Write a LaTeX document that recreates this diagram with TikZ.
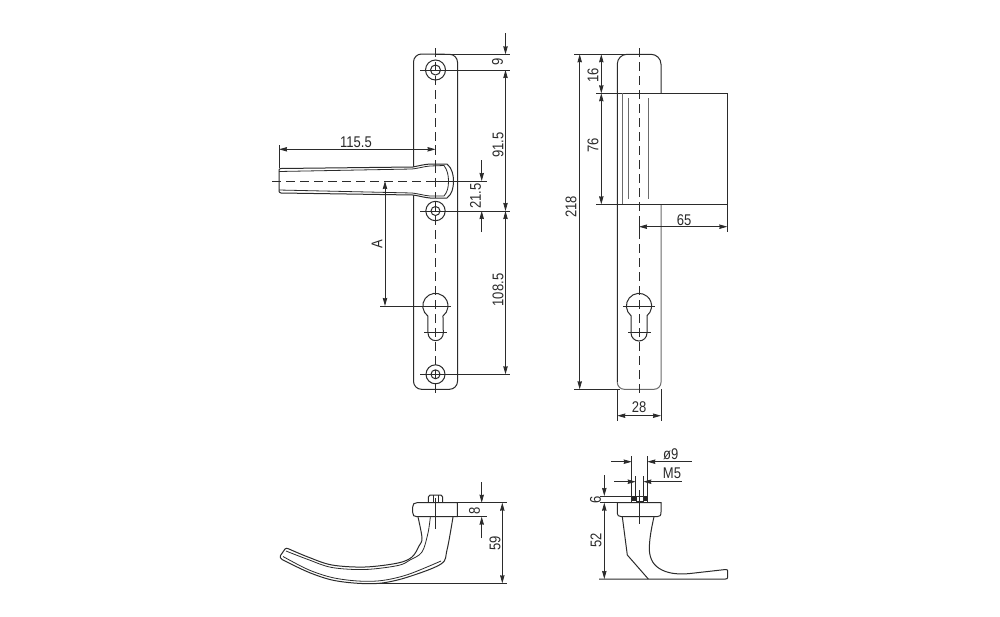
\documentclass[tikz,border=0pt]{standalone}
\usepackage{fontspec}
\setmainfont[FakeStretch=0.84]{Liberation Sans}
\usetikzlibrary{arrows.meta}
\definecolor{ink}{HTML}{2b2b2b}
\tikzset{
  ln/.style={draw=ink,line width=1pt},
  hair/.style={draw=ink,line width=.8pt},
  soft/.style={draw=ink!70,line width=1pt},
  ctr/.style={draw=ink,line width=.85pt,dash pattern=on 9pt off 5pt},
  dimd/.style={draw=ink,line width=.8pt,{Stealth[length=8pt,width=4.4pt,inset=.5pt]}-{Stealth[length=8pt,width=4.4pt,inset=.5pt]}},
  dimto/.style={draw=ink,line width=.8pt,-{Stealth[length=8pt,width=4.4pt,inset=.5pt]}},
  lab/.style={inner sep=0pt,text=ink,font=\fontsize{15.5pt}{15.5pt}\selectfont},
  vlab/.style={lab,rotate=90}
}
\begin{document}
\begin{tikzpicture}[x=1pt,y=-1pt]
\useasboundingbox[fill=white] (0,0) rectangle (1000,616);

% ---------- front view ----------
\draw[ln] (413.5,62) arc[start angle=180,end angle=270,radius=8] -- (449.5,54.3) arc[start angle=270,end angle=360,radius=8] -- (457.5,381.3) arc[start angle=0,end angle=90,radius=8] -- (421.5,389.3) arc[start angle=90,end angle=180,radius=8] -- cycle;
\draw[ctr] (435.5,48) -- (435.5,396);
\foreach \n/\yy/\ro/\ri in {a/70/10/5,b/211/9.7/4.5,c/374.3/9.5/4.5}{
  \draw[ln] (435.5,\yy) circle[radius=\ro];
  \draw[ln] (435.5,\yy) circle[radius=\ri];
}
% cylinder
\draw[ln] (427.8,316) arc[start angle=127,end angle=413,radius=12.6] -- (443.3,333) arc[start angle=0,end angle=180,radius=7.65] -- cycle;
\draw[hair] (424,332.7) -- (447,332.7);
% lever, top view
\draw[ln,fill=white] (281,168.5) -- (413,167) .. controls (420,165.5) and (424,164.5) .. (430,164) -- (447,164) .. controls (452,168) and (453.5,175) .. (453.5,181) .. controls (453.5,188) and (452,194) .. (447,198) -- (430,198) .. controls (424,197.5) and (420,196) .. (413,195) -- (281,193) .. controls (279.5,192.5) and (279,192) .. (279,191) -- (279,170) .. controls (279,169) and (280,168.5) .. (281,168.5) -- cycle;
\draw[hair] (279,171.5) -- (412,169) .. controls (420,168) and (424,166.5) .. (430,166) -- (444,165.5) .. controls (447.5,170) and (448.5,176) .. (448.5,181) .. controls (448.5,187) and (447.5,192) .. (444,196) -- (430,196) .. controls (424,195.5) and (420,194) .. (412,193) -- (279,190);
\draw[ctr] (272,181) -- (435.5,181);
\draw[hair] (435.5,181) -- (487,181);
\draw[ctr] (435.5,164) -- (435.5,198);
% extension lines
\draw[hair] (435.5,54.3) -- (510,54.3);
\draw[hair] (420,70) -- (510,70);
\draw[hair] (420,211) -- (510,211);
\draw[hair] (420,374.3) -- (510,374.3);
\draw[hair] (380,306) -- (451,306);
\draw[hair] (279,145) -- (279,168);
\draw[hair] (435.5,145) -- (435.5,153);
% dimensions
\draw[dimd] (279,149.3) -- (435.5,149.3);
\node[lab] (t115) at (356,142) {115.5};
\draw[dimto] (505.5,33) -- (505.5,54.3);
\draw[dimd] (505.5,70) -- (505.5,211);
\draw[dimd] (505.5,211) -- (505.5,374.3);
\node[vlab] (t9) at (497.5,62) {9};
\node[vlab] (t915) at (498,145) {91.5};
\node[vlab] (t1085) at (498,290) {108.5};
\draw[dimto] (481.7,160) -- (481.7,181);
\draw[dimto] (481.7,232) -- (481.7,211);
\node[vlab] (t215) at (475.5,196) {21.5};
\draw[dimd] (385,181) -- (385,306);
\node[vlab] (tA) at (377,244) {A};

% ---------- side view ----------
\draw[ln] (617.3,382.3) -- (617.3,64) arc[start angle=180,end angle=270,radius=9.7] -- (651,54.3) arc[start angle=270,end angle=360,radius=10] -- (661,93.3);
\draw[soft] (661,204.3) -- (661,382.3) arc[start angle=0,end angle=90,radius=7] -- (624.3,389.3) arc[start angle=90,end angle=180,radius=7];
\draw[ln] (596,93.3) -- (727.3,93.3) -- (727.3,204.3) -- (596,204.3);
\draw[soft] (622.3,93.3) -- (622.3,204.3);
\draw[soft] (628,98) -- (628,199);
\draw[soft] (648.7,98) -- (648.7,199);
\draw[ctr] (639,48) -- (639,395);
\draw[ln] (631,315.7) arc[start angle=129.4,end angle=410.6,radius=12.6] -- (647,333) arc[start angle=0,end angle=180,radius=8] -- cycle;
\draw[hair] (623,306) -- (655,306);
\draw[hair] (628,332.7) -- (651,332.7);
% extension lines
\draw[hair] (574,54.3) -- (632,54.3);
\draw[hair] (574,389.3) -- (620,389.3);
\draw[hair] (617.3,389.3) -- (617.3,421);
\draw[hair] (661,389.3) -- (661,421);
\draw[hair] (727.3,204.3) -- (727.3,232);
\draw[hair] (639,223) -- (639,231);
% dimensions
\draw[dimd] (579.7,54.3) -- (579.7,389.3);
\node[vlab] (t218) at (571,207) {218};
\draw[dimd] (601.3,54.3) -- (601.3,93.3);
\node[vlab] (t16) at (593,75) {16};
\draw[dimd] (601.3,93.3) -- (601.3,204.3);
\node[vlab] (t76) at (593,145) {76};
\draw[dimd] (639,226.7) -- (727.3,226.7);
\node[lab] (t65) at (684,220) {65};
\draw[dimd] (617.3,415.7) -- (661,415.7);
\node[lab] (t28) at (639,407) {28};

% ---------- lever, front elevation ----------
\draw[ln] (428.3,502.7) -- (428.3,497) -- (430,495) -- (441,495) -- (442.7,497) -- (442.7,502.7);
\draw[hair] (433,495) -- (433,502.7);
\draw[hair] (438,495) -- (438,502.7);
\draw[ln] (457.3,502.7) -- (417,502.7) .. controls (414,502.7) and (412.7,504) .. (412.7,507) -- (412.7,512.5) .. controls (412.7,515.5) and (414,516.7) .. (417,516.7) -- (457.3,516.7) -- cycle;
\draw[hair] (435,498) -- (435,529);
% handle
\draw[ln] plot[smooth,tension=.55] coordinates {(418,517) (422,538) (419,546) (412,557) (398,563) (365,567) (332,565) (308,557) (289,549)};
\draw[ln] (289,549) .. controls (287,548) and (286,548) .. (285,549) -- (280.5,555.5) .. controls (280,557) and (280,558) .. (282,559.5);
\draw[ln] plot[smooth,tension=.55] coordinates {(282,559.5) (308,572) (332,580) (358,583.3) (382,583) (408,577) (441,564) (447,550) (453,517)};
\draw[hair] plot[smooth,tension=.55] coordinates {(430.3,517) (428,533) (422,552) (410,560) (398,565.5) (365,569.5) (332,567.5) (308,559.5) (286,551)};
\draw[hair] plot[smooth,tension=.55] coordinates {(283,556.5) (308,569.5) (332,577.5) (358,581) (382,580.5) (408,574.5) (441,561)};
% dims
\draw[hair] (457.3,502.7) -- (507,502.7);
\draw[hair] (457.3,516.7) -- (487,516.7);
\draw[hair] (358,583.3) -- (507,583.3);
\draw[dimto] (481.7,482) -- (481.7,502.7);
\draw[dimto] (481.7,538) -- (481.7,516.7);
\node[vlab] (t8) at (474.5,511) {8};
\draw[dimd] (502.3,502.7) -- (502.3,583.3);
\node[vlab] (t59) at (495,543) {59};

% ---------- lever, side elevation ----------
\draw[ln] (617.3,502.7) -- (661,502.7) -- (661,512) .. controls (661,515.5) and (660,516.7) .. (657,516.7) -- (621.5,516.7) .. controls (618.5,516.7) and (617.3,515.5) .. (617.3,512) -- cycle;
\draw[ln] (622.3,516.7) -- (627.3,555) -- (648.3,579);
\draw[ln] (654,516.7) .. controls (651,530) and (649.3,540) .. (649.3,550) .. controls (650,560) and (654,566) .. (662,570) .. controls (670,574) and (680,574.5) .. (690,573.5) -- (725.5,569.5) .. controls (727,569.5) and (727.7,570) .. (727.7,571) -- (727.7,577) .. controls (727.7,578.5) and (727,579) .. (725.5,579) -- (599,579);
\fill[black!85] (632,496) rectangle (636,501);
\fill[black!85] (643,496) rectangle (647.3,501);
\draw[hair] (636,496) rectangle (643,501);
\draw[hair] (639,490) -- (639,524);
\draw[hair] (635.7,476) -- (635.7,496);
\draw[hair] (643.3,476) -- (643.3,496);
\draw[hair] (631.7,456) -- (631.7,502.7);
\draw[hair] (647.3,456) -- (647.3,502.7);
\draw[hair] (600,496) -- (632,496);
\draw[hair] (600,502.7) -- (617.3,502.7);
% dims
\draw[dimto] (611,461.7) -- (631.7,461.7);
\draw[dimto] (691.7,461.7) -- (647.3,461.7);
\node[lab] (td9) at (670.7,454) {ø9};
\draw[dimto] (614,481.7) -- (635.7,481.7);
\draw[dimto] (681.7,481.7) -- (643.3,481.7);
\node[lab] (tM5) at (672,473) {M5};
\draw[dimto] (604.3,475) -- (604.3,496);
\draw[dimd] (604.3,502.7) -- (604.3,579);
\node[vlab] (t6) at (595.5,500) {6};
\node[vlab] (t52) at (596,540) {52};
\end{tikzpicture}
\end{document}
